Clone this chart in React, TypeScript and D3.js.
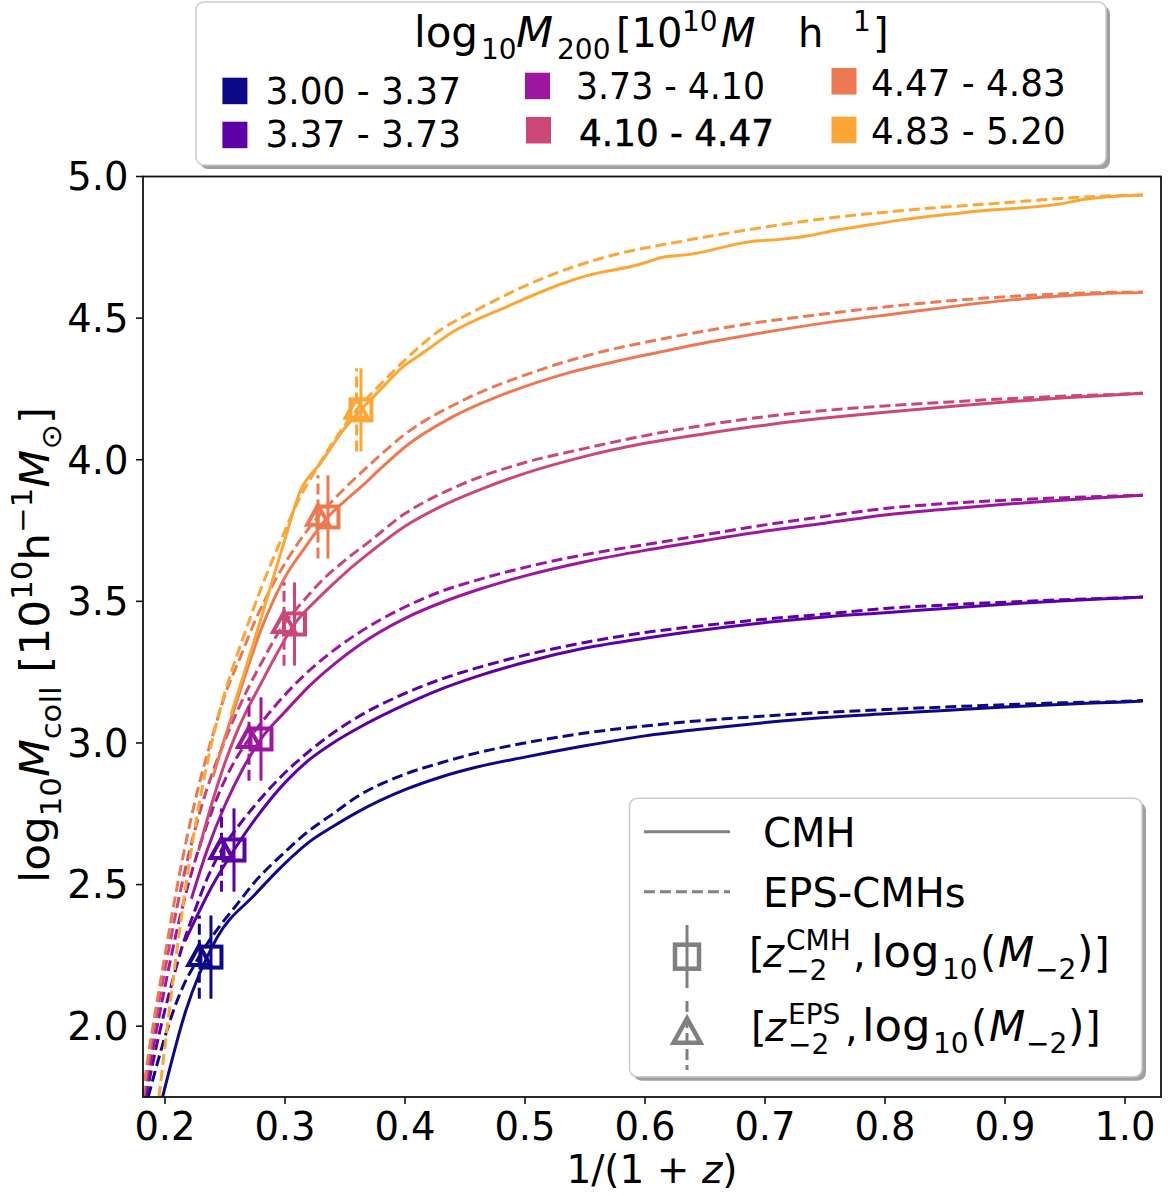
import React from 'react';
import * as d3 from 'd3';

// ---------- data ----------
const binLabels = ['3.00 - 3.37', '3.37 - 3.73', '3.73 - 4.10', '4.10 - 4.47', '4.47 - 4.83', '4.83 - 5.20'];
const binColors = ['#0d0887', '#5c01a6', '#9c179e', '#cc4778', '#ed7953', '#fca636'];

// CMH (solid) curves: [1/(1+z), log10 Mcoll]
const cmh0 = [[0.198,1.75],[0.217,2.05],[0.243,2.31],[0.275,2.465],[0.30,2.575],[0.32,2.65],[0.34,2.705],[0.36,2.755],[0.40,2.835],[0.43,2.88],[0.46,2.915],[0.50,2.95],[0.55,2.99],[0.60,3.025],[0.65,3.05],[0.70,3.072],[0.75,3.09],[0.80,3.103],[0.85,3.115],[0.90,3.127],[0.95,3.137],[1.0,3.145],[1.015,3.148]];
const cmh1 = [[0.2167,2.30],[0.24,2.50],[0.2575,2.622],[0.275,2.73],[0.30,2.86],[0.32,2.94],[0.34,3.0],[0.36,3.05],[0.40,3.135],[0.43,3.19],[0.46,3.235],[0.50,3.285],[0.55,3.335],[0.60,3.37],[0.65,3.40],[0.70,3.425],[0.75,3.445],[0.80,3.46],[0.85,3.475],[0.90,3.49],[0.95,3.502],[1.0,3.512],[1.015,3.515]];
const cmh2 = [[0.222,2.45],[0.235,2.62],[0.25,2.78],[0.265,2.91],[0.28,3.014],[0.30,3.11],[0.32,3.20],[0.34,3.275],[0.36,3.34],[0.40,3.44],[0.43,3.495],[0.46,3.54],[0.50,3.59],[0.55,3.64],[0.60,3.68],[0.65,3.715],[0.70,3.748],[0.75,3.776],[0.80,3.805],[0.85,3.825],[0.90,3.843],[0.95,3.858],[1.0,3.871],[1.015,3.875]];
const cmh3 = [[0.228,2.62],[0.24,2.80],[0.25,2.93],[0.26,3.04],[0.27,3.13],[0.28,3.21],[0.29,3.29],[0.3079,3.42],[0.33,3.52],[0.35,3.60],[0.37,3.67],[0.40,3.765],[0.43,3.835],[0.46,3.89],[0.50,3.952],[0.55,4.012],[0.60,4.058],[0.65,4.092],[0.70,4.122],[0.75,4.147],[0.80,4.168],[0.85,4.186],[0.90,4.204],[0.95,4.219],[1.0,4.231],[1.015,4.235]];
const cmh4 = [[0.24,2.88],[0.25,3.02],[0.26,3.15],[0.27,3.28],[0.28,3.40],[0.29,3.50],[0.30,3.585],[0.315,3.68],[0.3358,3.798],[0.35,3.855],[0.365,3.91],[0.38,3.97],[0.40,4.045],[0.44,4.152],[0.4847,4.235],[0.5347,4.305],[0.5736,4.345],[0.618,4.385],[0.657,4.418],[0.70,4.45],[0.74,4.477],[0.8125,4.517],[0.895,4.56],[0.9775,4.586],[1.015,4.59]];
const cmh5 = [[0.255,3.10],[0.2694,3.293],[0.28,3.44],[0.29,3.58],[0.30,3.72],[0.3125,3.887],[0.33,3.99],[0.3486,4.105],[0.3633,4.176],[0.38,4.25],[0.40,4.334],[0.4125,4.37],[0.44,4.452],[0.4847,4.54],[0.532,4.623],[0.551,4.649],[0.596,4.69],[0.615,4.715],[0.6375,4.725],[0.6875,4.77],[0.7125,4.778],[0.735,4.79],[0.76,4.811],[0.7736,4.82],[0.8125,4.846],[0.876,4.877],[0.95,4.906],[0.9665,4.92],[1.015,4.935]];

// EPS-CMH (dashed) curves
const eps0 = [[0.186,1.75],[0.195,1.89],[0.205,2.03],[0.215,2.14],[0.225,2.22],[0.235,2.29],[0.245,2.35],[0.26,2.43],[0.275,2.51],[0.30,2.615],[0.32,2.69],[0.34,2.75],[0.36,2.81],[0.40,2.89],[0.43,2.93],[0.46,2.965],[0.50,3.0],[0.55,3.035],[0.60,3.06],[0.65,3.08],[0.70,3.095],[0.75,3.108],[0.80,3.118],[0.85,3.127],[0.90,3.135],[0.95,3.142],[1.0,3.147],[1.015,3.15]];
const eps1 = [[0.184,1.75],[0.195,1.97],[0.205,2.14],[0.215,2.29],[0.225,2.41],[0.235,2.52],[0.2471,2.622],[0.26,2.70],[0.275,2.78],[0.30,2.895],[0.32,2.97],[0.34,3.035],[0.36,3.09],[0.40,3.175],[0.43,3.225],[0.46,3.265],[0.50,3.31],[0.55,3.355],[0.60,3.39],[0.65,3.415],[0.70,3.437],[0.75,3.455],[0.80,3.475],[0.85,3.487],[0.90,3.497],[0.95,3.506],[1.0,3.513],[1.015,3.515]];
const eps2 = [[0.183,1.75],[0.19,1.92],[0.20,2.14],[0.21,2.34],[0.22,2.51],[0.23,2.65],[0.24,2.77],[0.25,2.87],[0.26,2.95],[0.27,3.014],[0.28,3.07],[0.30,3.17],[0.32,3.255],[0.34,3.325],[0.36,3.385],[0.40,3.48],[0.43,3.535],[0.46,3.575],[0.50,3.62],[0.55,3.665],[0.60,3.70],[0.65,3.735],[0.70,3.77],[0.75,3.80],[0.80,3.828],[0.85,3.845],[0.90,3.857],[0.95,3.866],[1.0,3.873],[1.015,3.875]];
const eps3 = [[0.182,1.75],[0.19,1.97],[0.20,2.20],[0.21,2.42],[0.22,2.61],[0.23,2.77],[0.24,2.90],[0.25,3.01],[0.26,3.11],[0.27,3.20],[0.28,3.28],[0.2992,3.42],[0.315,3.50],[0.33,3.57],[0.35,3.645],[0.37,3.71],[0.40,3.81],[0.43,3.88],[0.46,3.935],[0.50,3.99],[0.55,4.04],[0.60,4.085],[0.65,4.122],[0.70,4.152],[0.75,4.174],[0.80,4.19],[0.85,4.203],[0.90,4.215],[0.95,4.225],[1.0,4.232],[1.015,4.235]];
const eps4 = [[0.181,1.75],[0.19,2.0],[0.20,2.25],[0.21,2.49],[0.22,2.70],[0.23,2.88],[0.24,3.03],[0.25,3.17],[0.2625,3.30],[0.275,3.43],[0.29,3.56],[0.31,3.70],[0.3275,3.798],[0.35,3.90],[0.37,3.98],[0.40,4.09],[0.45,4.213],[0.504,4.305],[0.56,4.377],[0.615,4.427],[0.685,4.479],[0.754,4.517],[0.8125,4.545],[0.895,4.574],[0.9775,4.59],[1.015,4.592]];
const eps5 = [[0.195,1.75],[0.20,1.93],[0.21,2.27],[0.22,2.57],[0.23,2.82],[0.24,3.02],[0.25,3.18],[0.26,3.31],[0.27,3.43],[0.28,3.545],[0.29,3.65],[0.30,3.75],[0.31,3.846],[0.325,3.96],[0.343,4.08],[0.3597,4.176],[0.38,4.268],[0.40,4.352],[0.4236,4.44],[0.4625,4.535],[0.518,4.646],[0.5736,4.723],[0.629,4.77],[0.6847,4.811],[0.74,4.846],[0.8125,4.879],[0.895,4.906],[0.9775,4.93],[1.015,4.935]];

const cmhSeries = [cmh0, cmh1, cmh2, cmh3, cmh4, cmh5];
const epsSeries = [eps0, eps1, eps2, eps3, eps4, eps5];

// z_-2 points
const zCmhX = [0.2383, 0.2575, 0.28, 0.3079, 0.3358, 0.3633];
const zEpsX = [0.2286, 0.2471, 0.27, 0.2992, 0.3275, 0.3597];
const logM2 = [2.244, 2.622, 3.014, 3.42, 3.798, 4.176];
const logM2Err = [0.147, 0.147, 0.147, 0.147, 0.147, 0.147];

const xTicks = [0.2, 0.3, 0.4, 0.5, 0.6, 0.7, 0.8, 0.9, 1.0];
const yTicks = [2.0, 2.5, 3.0, 3.5, 4.0, 4.5, 5.0];

// ---------- layout ----------
const W = 1171, H = 1196;
const PL = 143, PR = 1161, PT = 176.5, PB = 1097;
const FONT = "'DejaVu Sans', sans-serif";
const GRAY = '#808080';
const DASH = '11,5';

type Seg = { t: string; s?: 'sub' | 'sup'; it?: boolean };
function MathSpans({ segs, fs }: { segs: Seg[]; fs: number }) {
  let cur = 0;
  return (
    <>
      {segs.map((g, i) => {
        const target = g.s === 'sub' ? 0.3 * fs : g.s === 'sup' ? -0.42 * fs : 0;
        const dy = target - cur;
        cur = target;
        return (
          <tspan key={i} dy={dy} fontSize={g.s ? fs * 0.7 : fs} fontStyle={g.it ? 'italic' : 'normal'}>
            {g.t}
          </tspan>
        );
      })}
    </>
  );
}

type ASeg = { t: string; x: number; dy?: number; small?: boolean; it?: boolean; fs?: number };
function AbsMath({ segs, base, fs }: { segs: ASeg[]; base: number; fs: number }) {
  return (
    <g fontFamily={FONT} fill="#000">
      {segs.map((g, i) => (
        <text
          key={i}
          x={g.x}
          y={base + (g.dy || 0)}
          fontSize={g.fs || (g.small ? fs * 0.7 : fs)}
          fontStyle={g.it ? 'italic' : 'normal'}
        >
          {g.t}
        </text>
      ))}
    </g>
  );
}

function Square({ cx, cy, s, color, sw }: { cx: number; cy: number; s: number; color: string; sw: number }) {
  return <rect x={cx - s / 2} y={cy - s / 2} width={s} height={s} fill="none" stroke={color} strokeWidth={sw} />;
}
function Triangle({ cx, cy, s, color, sw }: { cx: number; cy: number; s: number; color: string; sw: number }) {
  const h = s * 0.9;
  const p = `M${cx},${cy - h * 0.6} L${cx + s / 2},${cy + h * 0.4} L${cx - s / 2},${cy + h * 0.4} Z`;
  return <path d={p} fill="none" stroke={color} strokeWidth={sw} strokeLinejoin="miter" />;
}

export default function App() {
  const x = d3.scaleLinear().domain([0.18167, 1.03]).range([PL, PR]);
  const y = d3.scaleLinear().domain([1.75, 5.0]).range([PB, PT]);
  const line = d3
    .line<number[]>()
    .x((d) => x(d[0]))
    .y((d) => y(d[1]))
    .curve(d3.curveMonotoneX);

  const yLabel: Seg[] = [
    { t: 'log' }, { t: '10', s: 'sub' }, { t: 'M', it: true }, { t: 'coll', s: 'sub' },
    { t: ' [10' }, { t: '10', s: 'sup' }, { t: 'h' }, { t: '\u22121', s: 'sup' },
    { t: 'M', it: true }, { t: '\u2299', s: 'sub' }, { t: ']' },
  ];

  const entryPos = [
    { sx: 222.4, sy: 77.7, tx: 265.5, ty: 104, tl: 195.5 },
    { sx: 222.4, sy: 121.7, tx: 265.5, ty: 147, tl: 195.5 },
    { sx: 525, sy: 72.7, tx: 576, ty: 99, tl: 189 },
    { sx: 526, sy: 117, tx: 579, ty: 146, tl: 195 },
    { sx: 831.5, sy: 68, tx: 871, ty: 96, tl: 194.6 },
    { sx: 831.5, sy: 116.7, tx: 871, ty: 143.5, tl: 194.6 },
  ];

  return (
    <svg width={W} height={H} style={{ position: 'absolute', left: 0, top: 0, background: '#fff' }} fontFamily={FONT}>
      <rect x={0} y={0} width={W} height={H} fill="#fff" />
      <defs>
        <clipPath id="plotclip">
          <rect x={PL} y={PT} width={PR - PL} height={PB - PT} />
        </clipPath>
      </defs>

      {/* curves and markers */}
      <g clipPath="url(#plotclip)">
        {binColors.map((c, i) => (
          <g key={i}>
            <path d={line(cmhSeries[i]) || ''} fill="none" stroke={c} strokeWidth={3} />
            <path d={line(epsSeries[i]) || ''} fill="none" stroke={c} strokeWidth={3} strokeDasharray={DASH} />
          </g>
        ))}
        {binColors.map((c, i) => (
          <g key={'m' + i}>
            <line x1={x(zEpsX[i])} x2={x(zEpsX[i])} y1={y(logM2[i] - logM2Err[i])} y2={y(logM2[i] + logM2Err[i])} stroke={c} strokeWidth={3} strokeDasharray={DASH} />
            <Triangle cx={x(zEpsX[i])} cy={y(logM2[i])} s={22} color={c} sw={4} />
            <line x1={x(zCmhX[i])} x2={x(zCmhX[i])} y1={y(logM2[i] - logM2Err[i])} y2={y(logM2[i] + logM2Err[i])} stroke={c} strokeWidth={3} />
            <Square cx={x(zCmhX[i])} cy={y(logM2[i])} s={21} color={c} sw={4} />
          </g>
        ))}
      </g>

      {/* frame */}
      <rect x={PL} y={PT} width={PR - PL} height={PB - PT} fill="none" stroke="#111" strokeWidth={1.8} />

      {/* x ticks */}
      {xTicks.map((t) => (
        <g key={'x' + t}>
          <line x1={x(t)} x2={x(t)} y1={PB} y2={PB + 7} stroke="#111" strokeWidth={1.6} />
          <text x={x(t)} y={1140} fontSize={38.5} textAnchor="middle" fill="#000">
            {t.toFixed(1)}
          </text>
        </g>
      ))}
      {/* y ticks */}
      {yTicks.map((t) => (
        <g key={'y' + t}>
          <line x1={PL - 7} x2={PL} y1={y(t)} y2={y(t)} stroke="#111" strokeWidth={1.6} />
          <text x={128.5} y={y(t)} dy="0.36em" fontSize={38.5} textAnchor="end" fill="#000">
            {t.toFixed(1)}
          </text>
        </g>
      ))}

      {/* x label */}
      <text x={652} y={1183} fontSize={39} textAnchor="middle" fill="#000" style={{ whiteSpace: 'pre' }}>
        <tspan>1/(1 + </tspan>
        <tspan fontStyle="italic">z</tspan>
        <tspan>)</tspan>
      </text>

      {/* y label */}
      <text
        transform="translate(49,645) rotate(-90)"
        textAnchor="middle"
        fontSize={40}
        fill="#000"
        textLength={476}
        lengthAdjust="spacingAndGlyphs"
        style={{ whiteSpace: 'pre' }}
      >
        <MathSpans segs={yLabel} fs={40} />
      </text>

      {/* top legend */}
      <rect x={200} y={6} width={910} height={163} rx={8} fill="#a0a0a0" />
      <rect x={196} y={2} width={910} height={163} rx={8} fill="#fff" stroke="#cccccc" strokeWidth={1.5} />
      <AbsMath
        base={47}
        fs={40}
        segs={[
          { t: 'log', x: 414, fs: 42 },
          { t: '10', x: 481, small: true, dy: 12 },
          { t: 'M', x: 516, it: true, fs: 43 },
          { t: '200', x: 557, small: true, dy: 12 },
          { t: '[10', x: 616 },
          { t: '10', x: 682, small: true, dy: -16 },
          { t: 'M', x: 721, it: true },
          { t: 'h', x: 798 },
          { t: '1', x: 853, small: true, dy: -16 },
          { t: ']', x: 873 },
        ]}
      />
      {binLabels.map((lab, i) => {
        const p = entryPos[i];
        return (
          <g key={'lg' + i}>
            <rect x={p.sx} y={p.sy} width={25} height={26.5} fill={binColors[i]} />
            <text
              x={p.tx}
              y={p.ty}
              fontSize={37}
              fill="#000"
              textLength={p.tl}
              lengthAdjust="spacingAndGlyphs"
              stroke={i === 3 ? '#000' : 'none'}
              strokeWidth={i === 3 ? 0.5 : 0}
              style={{ whiteSpace: 'pre' }}
            >
              {lab}
            </text>
          </g>
        );
      })}

      {/* bottom-right legend */}
      <rect x={633.5} y={802.3} width={512.5} height={278.4} rx={8} fill="#a0a0a0" />
      <rect x={629.5} y={798.3} width={512.5} height={278.4} rx={8} fill="#fff" stroke="#cccccc" strokeWidth={1.5} />
      <line x1={644} x2={730} y1={831.7} y2={831.7} stroke={GRAY} strokeWidth={3} />
      <text x={763} y={847} fontSize={40} fill="#000">CMH</text>
      <line x1={644} x2={730} y1={891.7} y2={891.7} stroke={GRAY} strokeWidth={3} strokeDasharray={DASH} />
      <text x={763} y={907} fontSize={40} fill="#000">EPS-CMHs</text>

      <line x1={687} x2={687} y1={925} y2={988} stroke={GRAY} strokeWidth={3} />
      <Square cx={687} cy={956.7} s={24} color={GRAY} sw={4.5} />
      <AbsMath
        base={967}
        fs={40}
        segs={[
          { t: '[', x: 749 },
          { t: 'z', x: 763, it: true },
          { t: 'CMH', x: 786, small: true, dy: -17 },
          { t: '\u22122', x: 786, small: true, dy: 13 },
          { t: ',', x: 853 },
          { t: 'log', x: 871, fs: 45 },
          { t: '10', x: 942, small: true, dy: 12 },
          { t: '(', x: 980, fs: 42 },
          { t: 'M', x: 998, it: true, fs: 42 },
          { t: '\u22122', x: 1035, small: true, dy: 12 },
          { t: ')', x: 1077, fs: 42 },
          { t: ']', x: 1094 },
        ]}
      />

      <line x1={687} x2={687} y1={1001} y2={1070} stroke={GRAY} strokeWidth={3} strokeDasharray={DASH} />
      <Triangle cx={687} cy={1033} s={27} color={GRAY} sw={4.5} />
      <AbsMath
        base={1041}
        fs={40}
        segs={[
          { t: '[', x: 751 },
          { t: 'z', x: 765, it: true },
          { t: 'EPS', x: 788, small: true, dy: -17 },
          { t: '\u22122', x: 788, small: true, dy: 13 },
          { t: ',', x: 845 },
          { t: 'log', x: 862, fs: 45 },
          { t: '10', x: 933, small: true, dy: 12 },
          { t: '(', x: 971, fs: 42 },
          { t: 'M', x: 989, it: true, fs: 42 },
          { t: '\u22122', x: 1026, small: true, dy: 12 },
          { t: ')', x: 1068, fs: 42 },
          { t: ']', x: 1085 },
        ]}
      />
    </svg>
  );
}
